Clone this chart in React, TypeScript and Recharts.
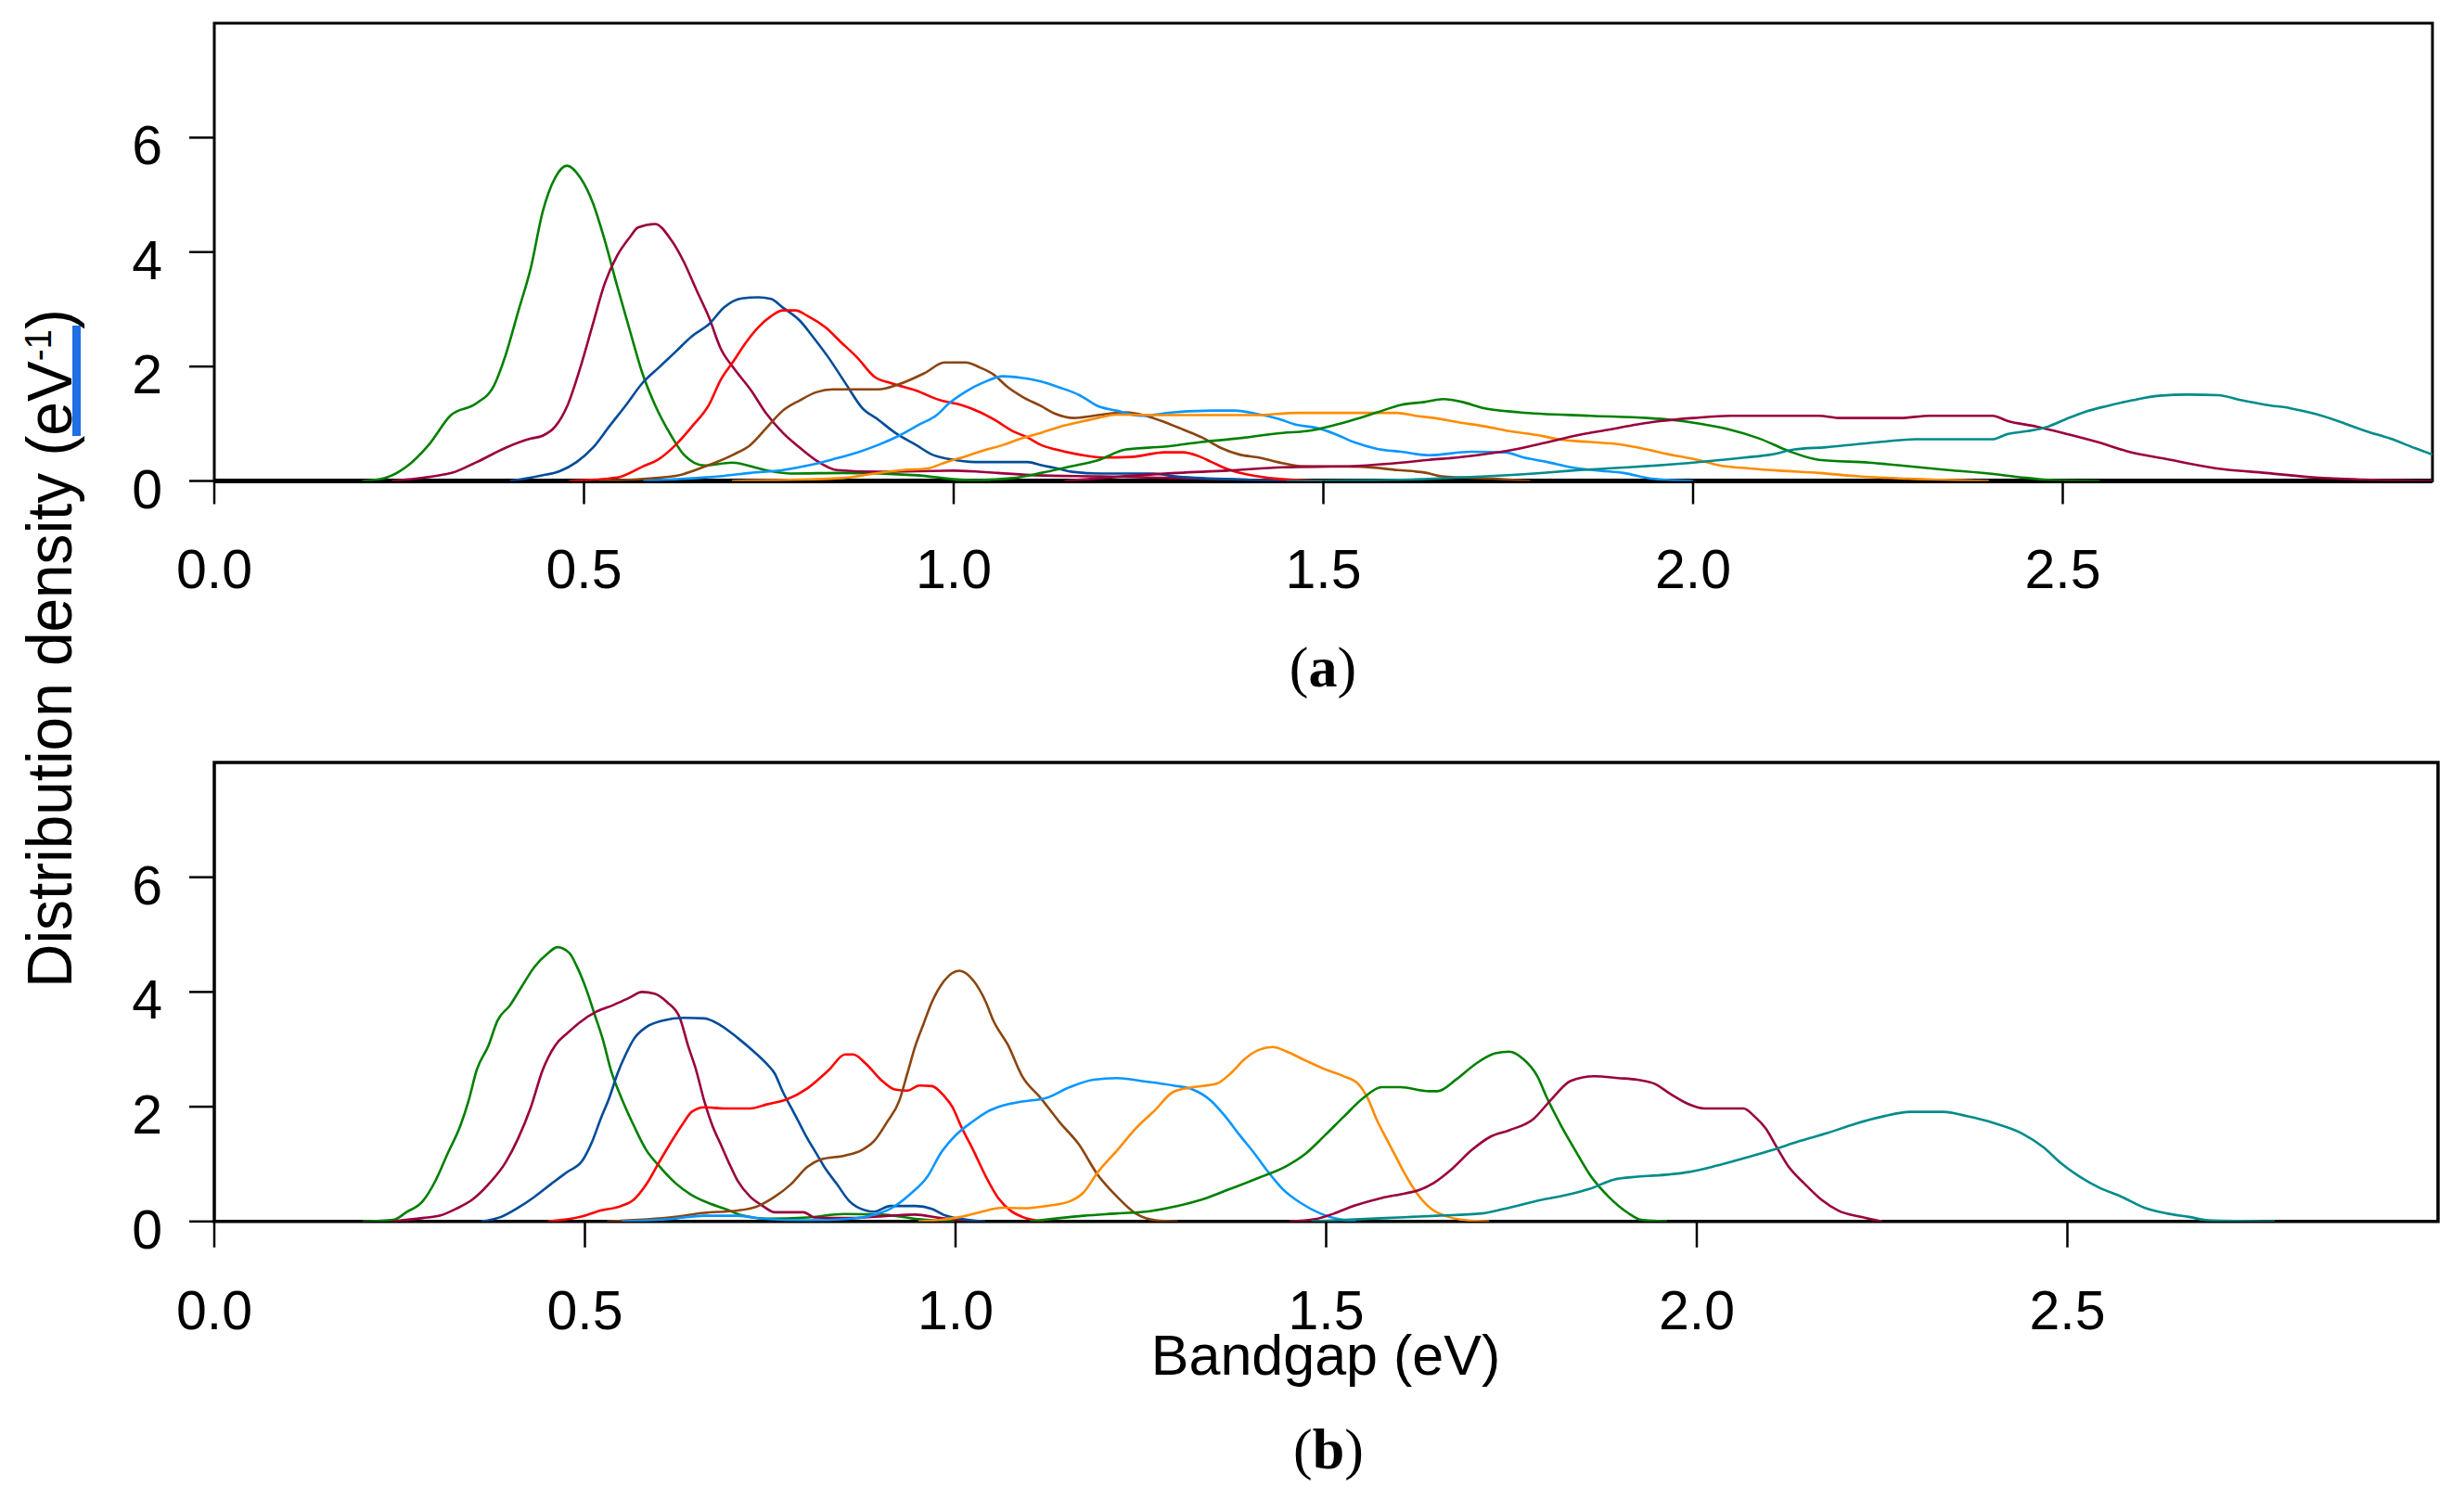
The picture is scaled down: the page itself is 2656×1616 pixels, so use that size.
import React from "react";
import {
  LineChart,
  Line,
  XAxis,
  YAxis,
  ReferenceArea,
  ReferenceLine,
} from "recharts";

// [bandgap eV, density eV^-1]
const topGreen1: [number, number][] = [
  [0.2, 0], [0.23, 0.05], [0.26, 0.25], [0.29, 0.63], [0.32, 1.15], [0.355, 1.36], [0.378, 1.66],
  [0.394, 2.2], [0.411, 2.96], [0.428, 3.72], [0.444, 4.7], [0.461, 5.3], [0.477, 5.51], [0.495, 5.3],
  [0.512, 4.86], [0.528, 4.21], [0.545, 3.4], [0.562, 2.63], [0.579, 1.88], [0.596, 1.33], [0.618, 0.79],
  [0.635, 0.46], [0.663, 0.27], [0.7, 0.32], [0.745, 0.19], [0.78, 0.13], [0.85, 0.14], [0.95, 0.1],
  [1.0, 0.03], [1.05, 0],
];
const topMaroon1: [number, number][] = [
  [0.24, 0], [0.3, 0.09], [0.321, 0.14], [0.355, 0.33], [0.394, 0.58], [0.428, 0.74], [0.444, 0.79],
  [0.461, 0.95], [0.478, 1.33], [0.495, 1.98], [0.512, 2.74], [0.528, 3.45], [0.545, 3.94], [0.562, 4.26],
  [0.573, 4.43], [0.596, 4.49], [0.618, 4.21], [0.635, 3.83], [0.652, 3.34], [0.669, 2.86], [0.685, 2.31],
  [0.702, 1.98], [0.725, 1.6], [0.747, 1.17], [0.769, 0.84], [0.792, 0.58], [0.814, 0.36], [0.842, 0.19],
  [0.9, 0.16], [1.0, 0.18], [1.06, 0.14], [1.11, 0.1], [1.2, 0.08], [1.3, 0.05], [1.4, 0.02], [1.5, 0],
];
const topNavy: [number, number][] = [
  [0.4, 0], [0.44, 0.09], [0.467, 0.17], [0.49, 0.33], [0.512, 0.58], [0.534, 0.95], [0.557, 1.33],
  [0.579, 1.71], [0.601, 1.98], [0.624, 2.26], [0.646, 2.53], [0.669, 2.74], [0.69, 3.04], [0.713, 3.19],
  [0.736, 3.21], [0.753, 3.18], [0.769, 3.03], [0.792, 2.8], [0.809, 2.53], [0.831, 2.15], [0.853, 1.72],
  [0.876, 1.28], [0.898, 1.07], [0.921, 0.84], [0.949, 0.63], [0.971, 0.46], [0.995, 0.38], [1.03, 0.33],
  [1.1, 0.33], [1.12, 0.27], [1.14, 0.22], [1.16, 0.16], [1.2, 0.13], [1.27, 0.13], [1.3, 0.08],
  [1.4, 0.02], [1.45, 0],
];
const topRed: [number, number][] = [
  [0.48, 0], [0.545, 0.06], [0.579, 0.25], [0.601, 0.38], [0.624, 0.63], [0.646, 0.95], [0.669, 1.33],
  [0.685, 1.77], [0.702, 2.09], [0.719, 2.42], [0.736, 2.69], [0.753, 2.88], [0.769, 2.98], [0.786, 2.98],
  [0.803, 2.88], [0.826, 2.69], [0.848, 2.42], [0.87, 2.15], [0.893, 1.82], [0.915, 1.71], [0.949, 1.58],
  [0.982, 1.41], [1.01, 1.33], [1.036, 1.2], [1.055, 1.07], [1.08, 0.87], [1.1, 0.76], [1.118, 0.63],
  [1.138, 0.55], [1.17, 0.46], [1.2, 0.41], [1.24, 0.42], [1.285, 0.5], [1.31, 0.5], [1.33, 0.44],
  [1.349, 0.33], [1.368, 0.22], [1.387, 0.14], [1.407, 0.09], [1.445, 0.03], [1.5, 0],
];
const topBrown: [number, number][] = [
  [0.52, 0], [0.624, 0.09], [0.663, 0.25], [0.702, 0.46], [0.725, 0.63], [0.747, 0.93], [0.769, 1.23],
  [0.792, 1.41], [0.814, 1.55], [0.837, 1.6], [0.898, 1.6], [0.926, 1.69], [0.96, 1.88], [0.988, 2.07],
  [1.016, 2.07], [1.036, 1.98], [1.055, 1.85], [1.073, 1.64], [1.093, 1.47], [1.118, 1.31], [1.138, 1.17],
  [1.163, 1.1], [1.189, 1.14], [1.233, 1.2], [1.26, 1.14], [1.285, 1.03], [1.31, 0.9], [1.336, 0.76],
  [1.361, 0.58], [1.387, 0.46], [1.413, 0.41], [1.438, 0.33], [1.47, 0.26], [1.55, 0.25], [1.6, 0.19],
  [1.64, 0.14], [1.66, 0.08], [1.73, 0.04], [1.78, 0],
];
const topSky: [number, number][] = [
  [0.58, 0], [0.624, 0.03], [0.69, 0.09], [0.725, 0.14], [0.769, 0.19], [0.803, 0.27], [0.837, 0.38],
  [0.87, 0.5], [0.898, 0.63], [0.926, 0.79], [0.954, 0.99], [0.977, 1.15], [0.994, 1.36], [1.016, 1.56],
  [1.04, 1.72], [1.067, 1.83], [1.093, 1.8], [1.118, 1.74], [1.144, 1.63], [1.17, 1.5], [1.195, 1.31],
  [1.22, 1.23], [1.253, 1.14], [1.298, 1.2], [1.35, 1.23], [1.38, 1.23], [1.407, 1.18], [1.438, 1.09],
  [1.464, 0.98], [1.49, 0.93], [1.516, 0.82], [1.541, 0.68], [1.573, 0.56], [1.605, 0.51], [1.643, 0.45],
  [1.7, 0.51], [1.745, 0.5], [1.771, 0.41], [1.803, 0.33], [1.835, 0.24], [1.874, 0.18], [1.906, 0.14],
  [1.944, 0.04], [2.0, 0],
];
const topOrange: [number, number][] = [
  [0.7, 0], [0.85, 0.05], [0.893, 0.13], [0.932, 0.19], [0.965, 0.22], [0.99, 0.33], [1.016, 0.43],
  [1.04, 0.53], [1.067, 0.63], [1.093, 0.75], [1.118, 0.84], [1.144, 0.95], [1.17, 1.03], [1.195, 1.1],
  [1.22, 1.16], [1.3, 1.15], [1.41, 1.15], [1.464, 1.19], [1.6, 1.19], [1.624, 1.14], [1.65, 1.1],
  [1.681, 1.03], [1.72, 0.95], [1.752, 0.87], [1.79, 0.8], [1.822, 0.72], [1.861, 0.68], [1.9, 0.64],
  [1.938, 0.55], [1.969, 0.46], [1.99, 0.41], [2.009, 0.36], [2.036, 0.27], [2.076, 0.22], [2.117, 0.18],
  [2.17, 0.14], [2.224, 0.08], [2.29, 0.04], [2.4, 0],
];
const topGreen2: [number, number][] = [
  [1.0, 0], [1.08, 0.05], [1.118, 0.14], [1.157, 0.25], [1.195, 0.36], [1.233, 0.55], [1.285, 0.6],
  [1.335, 0.68], [1.381, 0.74], [1.445, 0.84], [1.477, 0.87], [1.516, 0.98], [1.541, 1.07], [1.573, 1.2],
  [1.605, 1.33], [1.637, 1.38], [1.662, 1.43], [1.688, 1.38], [1.714, 1.28], [1.765, 1.2], [1.861, 1.14],
  [1.938, 1.1], [1.969, 1.07], [2.009, 1.0], [2.049, 0.9], [2.09, 0.74], [2.13, 0.52], [2.17, 0.37],
  [2.238, 0.32], [2.29, 0.26], [2.345, 0.19], [2.4, 0.13], [2.44, 0.07], [2.48, 0.02], [2.55, 0],
];
const topMaroon2: [number, number][] = [
  [1.15, 0], [1.25, 0.1], [1.3, 0.14], [1.37, 0.18], [1.445, 0.24], [1.541, 0.26], [1.605, 0.32],
  [1.643, 0.37], [1.681, 0.41], [1.708, 0.45], [1.759, 0.55], [1.797, 0.66], [1.848, 0.81], [1.887, 0.9],
  [1.925, 0.99], [1.958, 1.05], [2.0, 1.1], [2.05, 1.14], [2.17, 1.14], [2.2, 1.1], [2.28, 1.1],
  [2.32, 1.14], [2.405, 1.14], [2.425, 1.05], [2.465, 0.95], [2.506, 0.82], [2.547, 0.68], [2.587, 0.52],
  [2.641, 0.38], [2.708, 0.22], [2.775, 0.14], [2.842, 0.06], [2.92, 0.02], [3.0, 0],
];
const topTeal: [number, number][] = [
  [1.45, 0], [1.6, 0.02], [1.65, 0.04], [1.72, 0.08], [1.785, 0.13], [1.835, 0.18], [1.9, 0.23],
  [1.95, 0.27], [2.0, 0.32], [2.04, 0.37], [2.07, 0.41], [2.105, 0.46], [2.137, 0.55], [2.18, 0.59],
  [2.22, 0.64], [2.26, 0.69], [2.3, 0.73], [2.405, 0.73], [2.425, 0.82], [2.452, 0.87], [2.48, 0.95],
  [2.506, 1.09], [2.533, 1.22], [2.56, 1.31], [2.594, 1.41], [2.63, 1.49], [2.67, 1.51], [2.71, 1.5],
  [2.742, 1.41], [2.775, 1.33], [2.808, 1.27], [2.842, 1.17], [2.876, 1.03], [2.91, 0.87], [2.943, 0.74],
  [2.977, 0.57], [3.0, 0.46],
];

// panel (b)
const botGreen1: [number, number][] = [
  [0.2, 0], [0.242, 0.03], [0.259, 0.16], [0.281, 0.35], [0.298, 0.7], [0.315, 1.19], [0.332, 1.67],
  [0.343, 2.1], [0.354, 2.64], [0.37, 3.07], [0.382, 3.5], [0.399, 3.77], [0.415, 4.1], [0.432, 4.44],
  [0.449, 4.66], [0.463, 4.78], [0.479, 4.68], [0.49, 4.42], [0.502, 4.04], [0.513, 3.61], [0.524, 3.18],
  [0.535, 2.64], [0.549, 2.16], [0.566, 1.67], [0.583, 1.24], [0.6, 0.97], [0.622, 0.67], [0.644, 0.46],
  [0.667, 0.32], [0.689, 0.22], [0.711, 0.11], [0.745, 0.05], [0.8, 0.07], [0.85, 0.13], [0.9, 0.12],
  [0.95, 0.04], [1.0, 0],
];
const botMaroon1: [number, number][] = [
  [0.24, 0], [0.281, 0.06], [0.304, 0.1], [0.326, 0.22], [0.348, 0.38], [0.37, 0.65], [0.393, 1.03],
  [0.41, 1.45], [0.427, 1.99], [0.443, 2.64], [0.46, 3.07], [0.477, 3.29], [0.493, 3.47], [0.516, 3.66],
  [0.538, 3.77], [0.56, 3.9], [0.577, 4.0], [0.594, 3.97], [0.611, 3.82], [0.628, 3.55], [0.639, 3.07],
  [0.65, 2.64], [0.661, 2.1], [0.672, 1.67], [0.683, 1.35], [0.694, 1.03], [0.706, 0.71], [0.723, 0.43],
  [0.74, 0.27], [0.756, 0.16], [0.795, 0.16], [0.81, 0.07], [0.86, 0.06], [0.91, 0.1], [0.945, 0.12],
  [0.98, 0.06], [1.03, 0],
];
const botNavy: [number, number][] = [
  [0.36, 0], [0.387, 0.08], [0.41, 0.24], [0.432, 0.43], [0.454, 0.65], [0.477, 0.87], [0.496, 1.05],
  [0.51, 1.4], [0.521, 1.78], [0.533, 2.16], [0.544, 2.58], [0.555, 2.91], [0.566, 3.18], [0.583, 3.39],
  [0.605, 3.5], [0.633, 3.55], [0.661, 3.54], [0.683, 3.42], [0.706, 3.2], [0.728, 2.96], [0.745, 2.75],
  [0.756, 2.58], [0.767, 2.26], [0.778, 1.99], [0.789, 1.72], [0.8, 1.45], [0.812, 1.19], [0.823, 0.95],
  [0.84, 0.65], [0.857, 0.35], [0.879, 0.19], [0.89, 0.17], [0.912, 0.27], [0.946, 0.27], [0.968, 0.22],
  [0.985, 0.11], [1.0, 0.06], [1.04, 0],
];
const botRed: [number, number][] = [
  [0.45, 0], [0.494, 0.08], [0.521, 0.19], [0.549, 0.27], [0.566, 0.38], [0.583, 0.65], [0.6, 1.03],
  [0.617, 1.4], [0.633, 1.72], [0.644, 1.91], [0.661, 1.99], [0.689, 1.97], [0.723, 1.97], [0.745, 2.04],
  [0.773, 2.13], [0.8, 2.32], [0.829, 2.64], [0.851, 2.91], [0.862, 2.91], [0.879, 2.75], [0.901, 2.45],
  [0.918, 2.3], [0.935, 2.28], [0.951, 2.37], [0.968, 2.36], [0.985, 2.18], [0.996, 1.99], [1.007, 1.67],
  [1.024, 1.24], [1.041, 0.78], [1.058, 0.4], [1.075, 0.18], [1.09, 0.08], [1.12, 0],
];
const botBrown: [number, number][] = [
  [0.53, 0], [0.622, 0.08], [0.661, 0.15], [0.706, 0.19], [0.734, 0.27], [0.756, 0.43], [0.778, 0.65],
  [0.8, 0.95], [0.818, 1.08], [0.851, 1.15], [0.873, 1.24], [0.89, 1.4], [0.907, 1.72], [0.924, 2.1],
  [0.935, 2.58], [0.946, 3.07], [0.957, 3.45], [0.968, 3.82], [0.985, 4.2], [1.005, 4.37], [1.024, 4.2],
  [1.041, 3.82], [1.051, 3.5], [1.071, 3.07], [1.09, 2.53], [1.115, 2.15], [1.141, 1.72], [1.166, 1.35],
  [1.192, 0.81], [1.218, 0.43], [1.243, 0.14], [1.27, 0.02], [1.3, 0],
];
const botSky: [number, number][] = [
  [0.55, 0], [0.622, 0.05], [0.66, 0.1], [0.706, 0.1], [0.74, 0.05], [0.8, 0.02], [0.86, 0.05],
  [0.885, 0.1], [0.912, 0.22], [0.94, 0.49], [0.962, 0.78], [0.98, 1.19], [1.0, 1.5], [1.024, 1.75],
  [1.041, 1.9], [1.064, 2.02], [1.09, 2.09], [1.122, 2.15], [1.154, 2.34], [1.186, 2.47], [1.218, 2.5],
  [1.25, 2.45], [1.294, 2.37], [1.32, 2.3], [1.345, 2.1], [1.364, 1.83], [1.383, 1.51], [1.403, 1.19],
  [1.422, 0.86], [1.441, 0.57], [1.466, 0.32], [1.492, 0.14], [1.51, 0.06], [1.54, 0],
];
const botOrange: [number, number][] = [
  [0.95, 0], [1.007, 0.08], [1.032, 0.16], [1.064, 0.24], [1.09, 0.23], [1.128, 0.28], [1.154, 0.35],
  [1.173, 0.51], [1.192, 0.86], [1.218, 1.24], [1.243, 1.62], [1.269, 1.94], [1.294, 2.26], [1.32, 2.34],
  [1.352, 2.4], [1.371, 2.58], [1.39, 2.83], [1.409, 2.99], [1.428, 3.04], [1.447, 2.96], [1.473, 2.8],
  [1.499, 2.65], [1.524, 2.53], [1.543, 2.4], [1.556, 2.15], [1.568, 1.78], [1.581, 1.45], [1.594, 1.13],
  [1.607, 0.81], [1.626, 0.43], [1.645, 0.19], [1.66, 0.1], [1.69, 0.02], [1.72, 0],
];
const botGreen2: [number, number][] = [
  [1.1, 0], [1.141, 0.06], [1.173, 0.1], [1.218, 0.14], [1.262, 0.18], [1.3, 0.27], [1.332, 0.38],
  [1.371, 0.57], [1.409, 0.76], [1.447, 0.97], [1.473, 1.19], [1.499, 1.51], [1.524, 1.83], [1.55, 2.15],
  [1.575, 2.34], [1.6, 2.34], [1.639, 2.27], [1.65, 2.27], [1.676, 2.48], [1.702, 2.75], [1.728, 2.93],
  [1.747, 2.96], [1.766, 2.83], [1.785, 2.53], [1.798, 2.15], [1.817, 1.67], [1.836, 1.24], [1.856, 0.81],
  [1.881, 0.43], [1.907, 0.15], [1.925, 0.03], [1.96, 0],
];
const botMaroon2: [number, number][] = [
  [1.45, 0], [1.485, 0.04], [1.511, 0.14], [1.537, 0.27], [1.575, 0.41], [1.607, 0.49], [1.626, 0.55],
  [1.645, 0.67], [1.67, 0.92], [1.696, 1.24], [1.722, 1.48], [1.747, 1.59], [1.779, 1.78], [1.804, 2.13],
  [1.83, 2.45], [1.862, 2.53], [1.894, 2.5], [1.92, 2.47], [1.943, 2.4], [1.966, 2.21], [1.988, 2.05],
  [2.01, 1.97], [2.063, 1.97], [2.078, 1.83], [2.093, 1.62], [2.108, 1.29], [2.123, 0.97], [2.146, 0.65],
  [2.168, 0.38], [2.191, 0.19], [2.221, 0.08], [2.25, 0],
];
const botTeal: [number, number][] = [
  [1.48, 0], [1.58, 0.06], [1.65, 0.1], [1.71, 0.14], [1.74, 0.22], [1.766, 0.3], [1.792, 0.38],
  [1.824, 0.46], [1.856, 0.57], [1.888, 0.73], [1.92, 0.78], [1.963, 0.82], [1.988, 0.86], [2.026, 0.97],
  [2.063, 1.1], [2.101, 1.24], [2.138, 1.4], [2.176, 1.54], [2.213, 1.7], [2.251, 1.83], [2.288, 1.91],
  [2.333, 1.91], [2.363, 1.84], [2.4, 1.72], [2.438, 1.54], [2.468, 1.29], [2.491, 1.02], [2.513, 0.81],
  [2.543, 0.59], [2.573, 0.43], [2.604, 0.24], [2.634, 0.14], [2.664, 0.08], [2.69, 0.02], [2.78, 0],
];

const xTicks = [0, 0.5, 1, 1.5, 2, 2.5];
const yTicks = [0, 2, 4, 6];

const C = {
  green: "#008000",
  maroon: "#99003d",
  navy: "#004c99",
  red: "#ff0000",
  brown: "#8b4510",
  sky: "#0a96ff",
  orange: "#ff8c00",
  teal: "#008b8b",
};

const topSeries = [
  { id: "g1", pts: topGreen1, color: C.green },
  { id: "m1", pts: topMaroon1, color: C.maroon },
  { id: "n", pts: topNavy, color: C.navy },
  { id: "r", pts: topRed, color: C.red },
  { id: "b", pts: topBrown, color: C.brown },
  { id: "s", pts: topSky, color: C.sky },
  { id: "o", pts: topOrange, color: C.orange },
  { id: "g2", pts: topGreen2, color: C.green },
  { id: "m2", pts: topMaroon2, color: C.maroon },
  { id: "t", pts: topTeal, color: C.teal },
];

const botSeries = [
  { id: "g1", pts: botGreen1, color: C.green },
  { id: "m1", pts: botMaroon1, color: C.maroon },
  { id: "n", pts: botNavy, color: C.navy },
  { id: "r", pts: botRed, color: C.red },
  { id: "b", pts: botBrown, color: C.brown },
  { id: "s", pts: botSky, color: C.sky },
  { id: "o", pts: botOrange, color: C.orange },
  { id: "g2", pts: botGreen2, color: C.green },
  { id: "m2", pts: botMaroon2, color: C.maroon },
  { id: "t", pts: botTeal, color: C.teal },
];

const SANS = "'Liberation Sans', Arial, sans-serif";
const SERIF = "'Liberation Serif', 'Times New Roman', serif";

const toPts = (arr: [number, number][]) => arr.map(([x, y]) => ({ x, y }));

const XTick = (props: any) => {
  const { x, y, payload } = props;
  return (
    <text x={x} y={y} dy={42} textAnchor="middle" fontFamily={SANS} fontSize={59} fill="#000">
      {Number(payload.value).toFixed(1)}
    </text>
  );
};

const YTick = (props: any) => {
  const { x, y, payload } = props;
  return (
    <text x={x} y={y} dy={29} textAnchor="end" fontFamily={SANS} fontSize={59} fill="#000">
      {payload.value}
    </text>
  );
};

type PanelProps = {
  series: { id: string; pts: [number, number][]; color: string }[];
  top: number;
  marginTop: number;
  marginRight: number;
  xAxisHeight: number;
  xTickSize: number;
  xTickMargin: number;
  frameWidth: number;
  zeroLine: number;
};

const Panel = ({ series, top, marginTop, marginRight, xAxisHeight, xTickSize, xTickMargin, frameWidth, zeroLine }: PanelProps) => (
  <div style={{ position: "absolute", left: 0, top }}>
    <LineChart width={2656} height={700} margin={{ top: marginTop, right: marginRight, left: 0, bottom: 0 }}>
      <XAxis
        type="number"
        dataKey="x"
        domain={[0, 3]}
        ticks={xTicks}
        allowDataOverflow
        axisLine={false}
        tickLine={{ stroke: "#000", strokeWidth: 2.5 }}
        tickSize={xTickSize}
        tickMargin={xTickMargin}
        height={xAxisHeight}
        tick={XTick}
        interval={0}
      />
      <YAxis
        type="number"
        domain={[0, 8]}
        ticks={yTicks}
        allowDataOverflow
        axisLine={false}
        tickLine={{ stroke: "#000", strokeWidth: 2.5 }}
        tickSize={27}
        tickMargin={29}
        width={231}
        tick={YTick}
        interval={0}
      />
      <ReferenceLine y={0} stroke="#000" strokeWidth={zeroLine} ifOverflow="visible" />
      {series.map((s) => (
        <Line
          key={s.id}
          data={toPts(s.pts)}
          dataKey="y"
          type="monotone"
          stroke={s.color}
          strokeWidth={2.6}
          dot={false}
          activeDot={false}
          isAnimationActive={false}
        />
      ))}
      <ReferenceArea
        x1={0}
        x2={3}
        y1={0}
        y2={8}
        fill="none"
        fillOpacity={0}
        stroke="#000"
        strokeWidth={frameWidth}
        ifOverflow="visible"
      />
    </LineChart>
  </div>
);

export default function App() {
  return (
    <div style={{ position: "absolute", left: 0, top: 0, width: 2656, height: 1616, background: "#fff", overflow: "hidden" }}>
      <Panel
        series={topSeries}
        top={0}
        marginTop={25}
        marginRight={34}
        xAxisHeight={181.5}
        xTickSize={25}
        xTickMargin={48}
        frameWidth={3}
        zeroLine={5}
      />
      <Panel
        series={botSeries}
        top={800}
        marginTop={22}
        marginRight={28}
        xAxisHeight={183.2}
        xTickSize={28}
        xTickMargin={46}
        frameWidth={3.5}
        zeroLine={2.5}
      />
      <svg width={2656} height={1616} style={{ position: "absolute", left: 0, top: 0, pointerEvents: "none" }}>
        <text
          transform="translate(77,699) rotate(-90)"
          textAnchor="middle"
          fontFamily={SANS}
          fontSize={68}
          fill="#000"
          textLength={732}
          lengthAdjust="spacingAndGlyphs"
        >
          Distribution density (eV
          <tspan dy={-22} fontSize={40}>-1</tspan>
          <tspan dy={22}>)</tspan>
        </text>
        <rect x={78} y={351} width={9} height={119} fill="#1f6fe5" />
        <text x={1429} y={1482} textAnchor="middle" fontFamily={SANS} fontSize={61} fill="#000">
          Bandgap (eV)
        </text>
        <text x={1426} y={740} textAnchor="middle" fontFamily={SERIF} fontSize={62} fill="#000">
          (<tspan fontWeight="bold">a</tspan>)
        </text>
        <text x={1432} y={1583} textAnchor="middle" fontFamily={SERIF} fontSize={62} fill="#000">
          (<tspan fontWeight="bold">b</tspan>)
        </text>
      </svg>
    </div>
  );
}
